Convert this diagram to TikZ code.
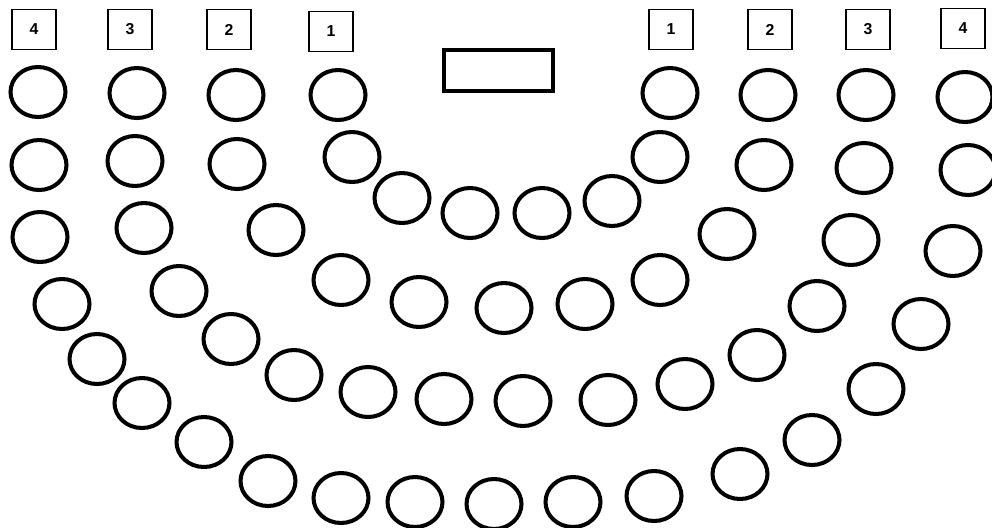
\documentclass[tikz,border=0pt]{standalone}
\usepackage{fontspec}
\setmainfont{Liberation Sans}
\usetikzlibrary{shapes.geometric}

\begin{document}
\begin{tikzpicture}[x=0.02cm,y=-0.02cm,font=\fontsize{9}{10}\selectfont\bfseries,
    seat/.style={draw,ellipse,line width=2.3pt,minimum width=1.1cm,minimum height=1cm,inner sep=0pt},
    numbox/.style={draw,line width=0.7pt,minimum width=0.88cm,minimum height=0.8cm,inner sep=0pt},
    desk/.style={draw,line width=2.3pt,minimum width=2.18cm,minimum height=0.82cm,inner sep=0pt}]
  \useasboundingbox (0,0) rectangle (992,528);

  \node[desk] (desk) at (498.5,70.5) {};

  \foreach \x/\y/\n [count=\i] in {34/29.5/4,130/29.5/3,229/29.5/2,331/31.5/1,
      671/29.5/1,770/29.5/2,868/29.5/3,963/28.5/4}
    \node[numbox] (lab\i) at (\x,\y) {\n};

  \foreach \x/\y [count=\i] in {338/95,352/157,402/198,470/213,542/213,612/201,660/157,670/93}
    \node[seat] (a\i) at (\x,\y) {};

  \foreach \x/\y [count=\i] in {236/95,237/164,276/230,341/280,419/302,504/308,585/304,
      660/280,727/234,764/165,768/95}
    \node[seat] (b\i) at (\x,\y) {};

  \foreach \x/\y [count=\i] in {137/93,135/161,144/228,179/291,231/339,294/375,368/392,
      444/399,523/401,608/400,685/384,757/355,817/306,851/240,864/168,866/95}
    \node[seat] (c\i) at (\x,\y) {};

  \foreach \x/\y [count=\i] in {38/92,39/165,40/237,62/304,97/359,142/403,204/442,268/481,
      341/498,415/502,494/504,573/502,654/496,740/474,812/440,876/389,921/324,953/251,
      968/170,965/97}
    \node[seat] (d\i) at (\x,\y) {};
\end{tikzpicture}
\end{document}
